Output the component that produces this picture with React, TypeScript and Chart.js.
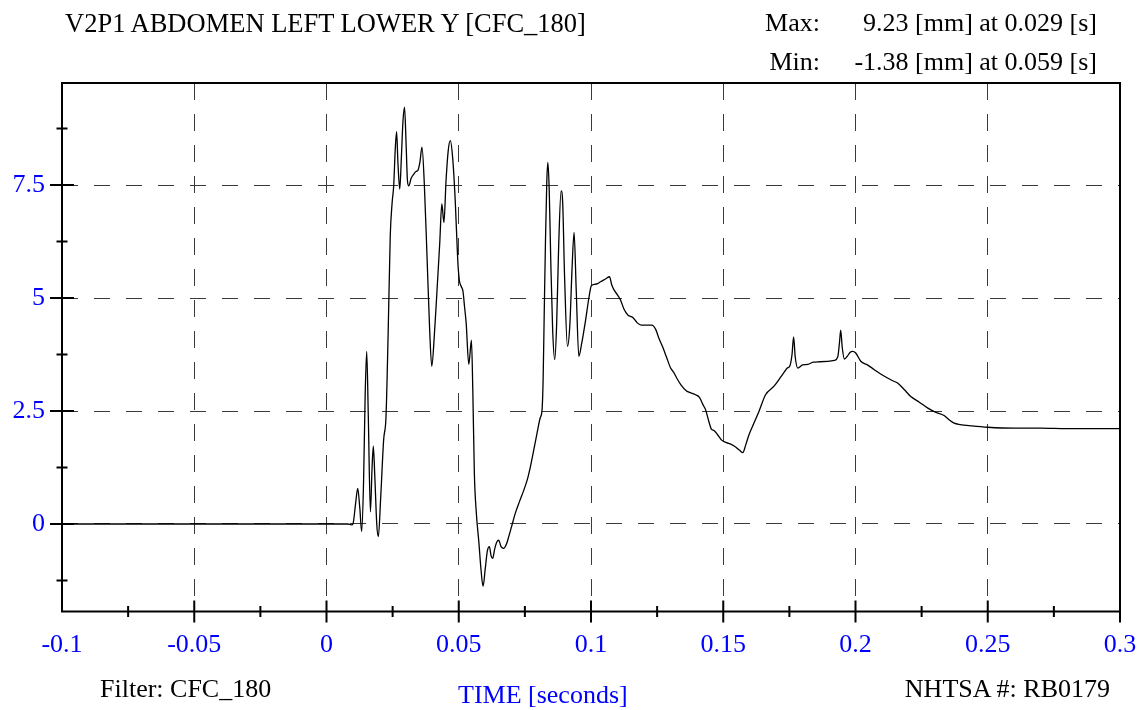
import React, { useEffect, useRef } from 'react';
import Chart from 'chart.js/auto';

// ---- data (time in seconds, displacement in mm) ----
const timeS = [
  -0.1, -0.05, 0.0, 0.008, 0.0095, 0.01, 0.011, 0.0118, 0.0126, 0.0133,
  0.014, 0.0146, 0.0152, 0.0158, 0.0166, 0.0172, 0.0177, 0.0183, 0.019, 0.0196,
  0.0205, 0.0216, 0.0225, 0.0233, 0.0241, 0.0248, 0.0254, 0.026, 0.0265, 0.027,
  0.0277, 0.0283, 0.0289, 0.0295, 0.0301, 0.0306, 0.0311, 0.032, 0.033, 0.0338,
  0.0345, 0.0353, 0.0361, 0.037, 0.038, 0.039, 0.0398, 0.0408, 0.0418, 0.0428,
  0.0436, 0.0444, 0.0452, 0.046, 0.0468, 0.0477, 0.0487, 0.0496, 0.0502, 0.051,
  0.0516, 0.0522, 0.0528, 0.0538, 0.0548, 0.0553, 0.0559, 0.0567, 0.0576, 0.0584,
  0.0592, 0.06, 0.0608, 0.0616, 0.0622, 0.0628, 0.0636, 0.0644, 0.0651, 0.066,
  0.067, 0.068, 0.0689, 0.07, 0.0714, 0.073, 0.0746, 0.076, 0.0771, 0.0784,
  0.0796, 0.0808, 0.0815, 0.0819, 0.0823, 0.0828, 0.0833, 0.0837, 0.0842, 0.0848,
  0.0855, 0.0863, 0.087, 0.0878, 0.0887, 0.0893, 0.09, 0.0911, 0.092, 0.0928,
  0.0936, 0.0944, 0.0954, 0.0965, 0.0979, 0.0992, 0.1001, 0.1011, 0.1025, 0.1036,
  0.1055, 0.107, 0.1078, 0.1086, 0.11, 0.1112, 0.1125, 0.114, 0.1158, 0.1175,
  0.119, 0.121, 0.123, 0.1245, 0.1256, 0.127, 0.1285, 0.1301, 0.1312, 0.1325,
  0.134, 0.136, 0.1377, 0.1395, 0.141, 0.1425, 0.1433, 0.1445, 0.1455, 0.1465,
  0.1478, 0.1495, 0.1512, 0.153, 0.1548, 0.1562, 0.1574, 0.1585, 0.1597, 0.1615,
  0.1635, 0.166, 0.1692, 0.1717, 0.1733, 0.1742, 0.1752, 0.176, 0.1766, 0.1772,
  0.1782, 0.18, 0.182, 0.184, 0.1865, 0.1895, 0.192, 0.1933, 0.194, 0.1944,
  0.195, 0.1958, 0.197, 0.198, 0.1989, 0.2, 0.202, 0.2045, 0.207, 0.2095,
  0.2121, 0.214, 0.2159, 0.2185, 0.2209, 0.224, 0.2272, 0.23, 0.2335, 0.2355,
  0.2373, 0.2395, 0.244, 0.25, 0.26, 0.27, 0.28, 0.29, 0.3,
];

const displacementMm = [
  0, 0, 0, 0, -0.02, 0.0, 0.45, 0.79, 0.35, -0.17,
  0.9, 2.8, 3.82, 2.4, 0.27, 1.2, 1.72, 1.0, 0.0, -0.28,
  0.6, 1.86, 2.38, 4.2, 6.37, 7.1, 7.48, 8.3, 8.68, 8.0,
  7.41, 8.1, 8.9, 9.22, 8.4, 7.6, 7.48, 7.65, 7.74, 7.8,
  7.82, 8.0, 8.34, 7.5, 5.93, 4.3, 3.49, 4.2, 5.19, 6.2,
  7.08, 6.67, 7.6, 8.25, 8.48, 8.1, 7.12, 5.86, 5.4, 5.25,
  5.15, 4.8, 4.45, 3.53, 4.07, 3.0, 1.13, 0.2, -0.4, -1.0,
  -1.38, -1.0, -0.6, -0.5, -0.7, -0.76, -0.55, -0.4, -0.36, -0.5,
  -0.54, -0.45, -0.28, -0.05, 0.24, 0.5, 0.75, 1.0, 1.27, 1.65,
  2.01, 2.35, 2.53, 3.2, 4.6, 6.3, 7.6, 8.0, 7.4, 5.8,
  4.3, 3.64, 4.4, 6.2, 7.37, 7.1, 5.5, 3.93, 4.4, 5.6,
  6.45, 5.2, 3.71, 4.0, 4.49, 5.0, 5.27, 5.3, 5.32, 5.36,
  5.42, 5.47, 5.3, 5.19, 5.07, 4.95, 4.75, 4.62, 4.57, 4.45,
  4.4, 4.4, 4.4, 4.3, 4.12, 3.93, 3.7, 3.45, 3.36, 3.22,
  3.08, 2.95, 2.9, 2.86, 2.8, 2.62, 2.53, 2.28, 2.1, 2.07,
  1.98, 1.85, 1.8, 1.76, 1.7, 1.63, 1.58, 1.75, 1.97, 2.22,
  2.49, 2.86, 3.05, 3.25, 3.38, 3.45, 3.5, 3.75, 4.14, 3.7,
  3.45, 3.52, 3.53, 3.58, 3.59, 3.6, 3.62, 3.7, 4.05, 4.29,
  3.9, 3.65, 3.72, 3.8, 3.82, 3.79, 3.6, 3.52, 3.42, 3.32,
  3.23, 3.17, 3.12, 2.97, 2.82, 2.7, 2.57, 2.48, 2.4, 2.3,
  2.23, 2.2, 2.17, 2.14, 2.12, 2.12, 2.11, 2.11, 2.11,
];

// ---- axes ----
const xMin = -0.1;
const xMax = 0.3;
const yMin = -1.936;
const yMax = 9.757;
const xTickValues = [-0.1, -0.05, 0, 0.05, 0.1, 0.15, 0.2, 0.25, 0.3];
const xTickLabels = ['-0.1', '-0.05', '0', '0.05', '0.1', '0.15', '0.2', '0.25', '0.3'];
const yTickValues = [0, 2.5, 5, 7.5];
const yTickLabels = ['0', '2.5', '5', '7.5'];
const xMarkValues = [-0.075, -0.05, -0.025, 0, 0.025, 0.05, 0.075, 0.1, 0.125, 0.15, 0.175, 0.2, 0.225, 0.25, 0.275, 0.3];
const yMarkValues = [-1.25, 0, 1.25, 2.5, 3.75, 5, 6.25, 7.5, 8.75];

// ---- texts ----
const titleText = 'V2P1 ABDOMEN LEFT LOWER Y [CFC_180]';
const maxLabel = 'Max:';
const maxText = '9.23 [mm] at 0.029 [s]';
const minLabel = 'Min:';
const minText = '-1.38 [mm] at 0.059 [s]';
const filterText = 'Filter: CFC_180';
const xTitleText = 'TIME [seconds]';
const idText = 'NHTSA #: RB0179';

const FONT = '"Liberation Serif", "Times New Roman", serif';
const BLUE = '#0000ff';

const isMultiple = (v: number, step: number) => Math.abs(Math.round(v / step) * step - v) < 1e-9;

const axisMarksPlugin = {
  id: 'axisMarks',
  afterDraw(chart: any) {
    const { ctx, chartArea: a, scales } = chart;
    const xs = scales.x;
    const ys = scales.y;
    ctx.save();
    ctx.strokeStyle = '#000';
    ctx.lineWidth = 2;
    ctx.beginPath();
    ctx.rect(a.left, a.top, a.right - a.left, a.bottom - a.top);
    ctx.stroke();
    ctx.beginPath();
    xMarkValues.forEach((v) => {
      const px = xs.getPixelForValue(v);
      const h = isMultiple(v, 0.05) ? 11 : 5.5;
      ctx.moveTo(px, a.bottom - h);
      ctx.lineTo(px, a.bottom + h);
    });
    yMarkValues.forEach((v) => {
      const py = ys.getPixelForValue(v);
      const h = isMultiple(v, 2.5) ? 12 : 5.5;
      ctx.moveTo(a.left - h, py);
      ctx.lineTo(a.left + h, py);
    });
    ctx.stroke();
    ctx.restore();
  },
};

const textStyle = (extra: React.CSSProperties): React.CSSProperties => ({
  position: 'absolute',
  fontFamily: FONT,
  fontSize: 26,
  lineHeight: '26px',
  whiteSpace: 'nowrap',
  color: '#000',
  ...extra,
});

export default function App() {
  const canvasRef = useRef<HTMLCanvasElement | null>(null);

  useEffect(() => {
    if (!canvasRef.current) return;
    const points = timeS.map((t, i) => ({ x: t, y: displacementMm[i] }));
    const chart = new Chart(canvasRef.current, {
      type: 'line',
      data: {
        datasets: [
          {
            data: points,
            borderColor: '#000',
            borderWidth: 1.3,
            pointRadius: 0,
            fill: false,
            cubicInterpolationMode: 'monotone',
          },
        ],
      },
      options: {
        animation: false,
        responsive: false,
        devicePixelRatio: 1,
        layout: { padding: { top: 83, right: 24, left: 0, bottom: 0 } },
        plugins: { legend: { display: false }, tooltip: { enabled: false } },
        scales: {
          x: {
            type: 'linear',
            min: xMin,
            max: xMax,
            afterBuildTicks: (scale: any) => {
              scale.ticks = xTickValues.map((value) => ({ value }));
            },
            afterFit: (scale: any) => {
              scale.height = 98.5;
              scale.paddingLeft = 0;
              scale.paddingRight = 0;
            },
            grid: { color: '#3a3a3a', lineWidth: 1, drawTicks: false },
            border: { display: false, dash: [17, 14] },
            ticks: {
              color: BLUE,
              font: { family: FONT, size: 26 },
              padding: 18,
              maxRotation: 0,
              autoSkip: false,
              callback: (_v: any, i: number) => xTickLabels[i],
            },
          },
          y: {
            type: 'linear',
            min: yMin,
            max: yMax,
            afterBuildTicks: (scale: any) => {
              scale.ticks = yTickValues.map((value) => ({ value }));
            },
            afterFit: (scale: any) => {
              scale.width = 62;
              scale.paddingTop = 0;
              scale.paddingBottom = 0;
            },
            grid: { color: '#3a3a3a', lineWidth: 1, drawTicks: false },
            border: { display: false, dash: [16, 16] },
            ticks: {
              color: BLUE,
              font: { family: FONT, size: 26 },
              padding: 17,
              autoSkip: false,
              callback: (_v: any, i: number) => yTickLabels[i],
            },
          },
        },
      },
      plugins: [axisMarksPlugin],
    } as any);
    return () => chart.destroy();
  }, []);

  return (
    <div style={{ position: 'fixed', left: 0, top: 0, width: 1144, height: 710, background: '#fff', overflow: 'hidden' }}>
      <canvas ref={canvasRef} width={1144} height={710} style={{ position: 'absolute', left: 0, top: 0, width: 1144, height: 710 }} />
      <div style={textStyle({ left: 65, top: 10, fontSize: 26.5 })}>{titleText}</div>
      <div style={textStyle({ right: 1144 - 820, top: 10 })}>{maxLabel}</div>
      <div style={textStyle({ right: 1144 - 1097, top: 10 })}>{maxText}</div>
      <div style={textStyle({ right: 1144 - 820, top: 49 })}>{minLabel}</div>
      <div style={textStyle({ right: 1144 - 1097, top: 49 })}>{minText}</div>
      <div style={textStyle({ left: 100, top: 676 })}>{filterText}</div>
      <div style={textStyle({ left: 458, top: 682, color: BLUE })}>{xTitleText}</div>
      <div style={textStyle({ right: 1144 - 1110, top: 676 })}>{idText}</div>
    </div>
  );
}
